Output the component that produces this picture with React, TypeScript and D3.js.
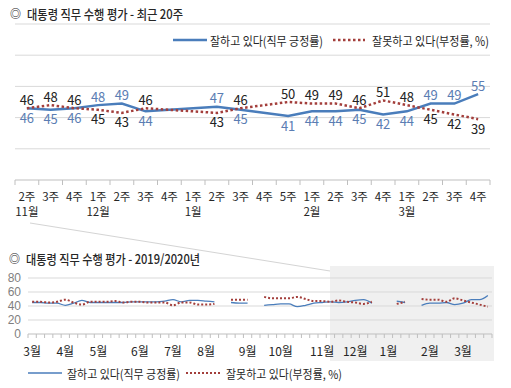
import { useEffect, useRef } from "react";
import * as d3 from "d3";

// last 20 weeks (2019-11 2주 ~ 2020-03 4주), null = no survey that week
const topWeeks = ["2주", "3주", "4주", "1주", "2주", "3주", "4주", "1주", "2주", "3주", "4주", "5주", "1주", "2주", "3주", "4주", "1주", "2주", "3주", "4주"];
const topMonths = ["11월", "", "", "12월", "", "", "", "1월", "", "", "", "", "2월", "", "", "", "3월", "", "", ""];
const topApprove = [46, 45, 46, 48, 49, 44, null, null, 47, 45, null, 41, 44, 44, 45, 42, 44, 49, 49, 55];
const topDisapprove = [46, 48, 46, 45, 43, 46, null, null, 43, 46, null, 50, 49, 49, 46, 51, 48, 45, 42, 39];
const topTicks = [0, 20, 40, 60, 80, 100];

// 2019-03 1주 ~ 2019-11 1주 (36 weeks), the rest of the year chart is the 20 weeks above
const earlyApprove = [45, 45, 44, 44, 41, 44, 48, 45, 45, 45, 45, 45, 46, 46, 46, 46, 47, 49, 46, 48, 48, 47, 46, null, 45, 44, 44, null, 41, 42, 43, 43, 39, 41, 44, 45];
const earlyDisapprove = [46, 46, 45, 46, 49, 45, 42, 46, 46, 46, 47, 45, 46, 46, 45, 45, 45, 41, 45, 45, 42, 42, 43, null, 49, 49, 49, null, 53, 51, 51, 51, 53, 50, 47, 47];
const yearApprove = [...earlyApprove, ...topApprove];
const yearDisapprove = [...earlyDisapprove, ...topDisapprove];
const yearMonths = ["3월", "4월", "5월", "6월", "7월", "8월", "9월", "10월", "11월", "12월", "1월", "2월", "3월"];
const yearMonthStart = [0, 4, 8, 13, 17, 21, 26, 30, 35, 39, 43, 48, 52];
const yearTicks = [0, 20, 40, 60, 80];

const approveLabel = "잘하고 있다(직무 긍정률)";
const disapproveLabel = "잘못하고 있다(부정률, %)";

type Pt = { i: number; v: number };

export default function App() {
  const svgRef = useRef<SVGSVGElement>(null);

  useEffect(() => {
    if (!svgRef.current) return;
    const svg = d3.select(svgRef.current);
    svg.selectAll("*").remove();

    const font = "'Noto Sans CJK KR', 'Noto Sans', sans-serif";
    const blue = "#4a7dbb";
    const red = "#a33e3b";
    const grid = "#d9d9d9";
    const axisColor = "#bfbfbf";
    const textColor = "#262626";

    svg.append("rect").attr("width", 511).attr("height", 388).attr("fill", "#fff");

    const title = (x: number, y: number, text: string, len: number) => {
      svg.append("text").attr("x", x).attr("y", y).attr("dominant-baseline", "central")
        .attr("font-family", font).attr("font-size", 11).attr("font-weight", 700)
        .attr("fill", textColor).text("◎");
      svg.append("text").attr("x", x + 17).attr("y", y).attr("dominant-baseline", "central")
        .attr("font-family", font).attr("font-size", 13).attr("font-weight", 500).attr("fill", textColor)
        .attr("textLength", len).attr("lengthAdjust", "spacingAndGlyphs").text(text);
    };

    // ---------------- top chart: last 20 weeks ----------------
    const xTop = d3.scaleBand<number>().domain(topWeeks.map((_, i) => i)).range([15, 490]);
    const yTop = d3.scaleLinear().domain([0, 100]).range([180, 24]);
    const cxTop = (i: number) => (xTop(i) ?? 0) + xTop.bandwidth() / 2;

    title(10, 13, "대통령 직무 수행 평가 - 최근 20주", 156);

    svg.append("g").selectAll("line").data(topTicks.slice(1)).join("line")
      .attr("x1", 15).attr("x2", 490)
      .attr("y1", (d) => yTop(d)).attr("y2", (d) => yTop(d))
      .attr("stroke", grid);

    svg.append("line").attr("x1", 15).attr("x2", 490).attr("y1", yTop(0)).attr("y2", yTop(0))
      .attr("stroke", axisColor);
    svg.append("g").selectAll("line").data(d3.range(topWeeks.length + 1)).join("line")
      .attr("x1", (i) => (i < topWeeks.length ? xTop(i) ?? 0 : 490))
      .attr("x2", (i) => (i < topWeeks.length ? xTop(i) ?? 0 : 490))
      .attr("y1", yTop(0)).attr("y2", yTop(0) + 5)
      .attr("stroke", axisColor);

    svg.append("g").selectAll("text").data(topWeeks).join("text")
      .attr("x", (_, i) => cxTop(i)).attr("y", 196)
      .attr("text-anchor", "middle").attr("dominant-baseline", "central")
      .attr("font-family", font).attr("font-size", 11.5).attr("fill", textColor)
      .text((d) => d);
    svg.append("g").selectAll("text").data(topMonths).join("text")
      .attr("x", (_, i) => cxTop(i)).attr("y", 211)
      .attr("text-anchor", "middle").attr("dominant-baseline", "central")
      .attr("font-family", font).attr("font-size", 11.5).attr("fill", textColor)
      .text((d) => d);

    // legend
    svg.append("line").attr("x1", 173).attr("x2", 207).attr("y1", 40).attr("y2", 40)
      .attr("stroke", blue).attr("stroke-width", 2.5);
    svg.append("text").attr("x", 210).attr("y", 40).attr("dominant-baseline", "central")
      .attr("font-family", font).attr("font-size", 12.5).attr("fill", textColor)
      .attr("textLength", 113).attr("lengthAdjust", "spacingAndGlyphs").text(approveLabel);
    svg.append("line").attr("x1", 333).attr("x2", 365).attr("y1", 40).attr("y2", 40)
      .attr("stroke", red).attr("stroke-width", 2.5).attr("stroke-dasharray", "2.5 2.5");
    svg.append("text").attr("x", 372).attr("y", 40).attr("dominant-baseline", "central")
      .attr("font-family", font).attr("font-size", 12.5).attr("fill", textColor)
      .attr("textLength", 117).attr("lengthAdjust", "spacingAndGlyphs").text(disapproveLabel);

    const pts = (arr: (number | null)[]): Pt[] =>
      arr.map((v, i) => ({ i, v: v as number })).filter((d) => d.v != null);

    const lineTop = d3.line<Pt>().x((d) => cxTop(d.i)).y((d) => yTop(d.v));
    svg.append("path").attr("d", lineTop(pts(topApprove)))
      .attr("fill", "none").attr("stroke", blue).attr("stroke-width", 2.5);
    svg.append("path").attr("d", lineTop(pts(topDisapprove)))
      .attr("fill", "none").attr("stroke", red).attr("stroke-width", 2.5)
      .attr("stroke-dasharray", "2.5 2.5");

    // value labels: higher value above, lower value below
    const labels: { i: number; v: number; up: boolean; pos: boolean }[] = [];
    topApprove.forEach((a, i) => {
      const n = topDisapprove[i];
      if (a == null || n == null) return;
      labels.push({ i, v: a, up: a > n, pos: true });
      labels.push({ i, v: n, up: !(a > n), pos: false });
    });
    svg.append("g").selectAll("text").data(labels).join("text")
      .attr("x", (d) => cxTop(d.i))
      .attr("y", (d) => yTop(d.v) + (d.up ? -9 : 9))
      .attr("text-anchor", "middle").attr("dominant-baseline", "central")
      .attr("font-family", font).attr("font-size", 13)
      .attr("fill", (d) => (d.pos ? "#5b7db3" : "#222"))
      .text((d) => d.v);

    // ---------------- bottom chart: 2019/2020 ----------------
    title(9, 258, "대통령 직무 수행 평가 - 2019/2020년", 174);

    svg.append("line").attr("x1", 30).attr("y1", 223).attr("x2", 330).attr("y2", 271)
      .attr("stroke", "#d4d4d4");
    svg.append("rect").attr("x", 330).attr("y", 266).attr("width", 164).attr("height", 95)
      .attr("fill", "#f0f0f0");

    const xYear = d3.scaleBand<number>().domain(yearApprove.map((_, i) => i)).range([28, 492]);
    const yYear = d3.scaleLinear().domain([0, 80]).range([334, 278]);
    const cxYear = (i: number) => (xYear(i) ?? 0) + xYear.bandwidth() / 2;

    svg.append("g").selectAll("line").data(yearTicks.slice(1)).join("line")
      .attr("x1", 28).attr("x2", 492)
      .attr("y1", (d) => yYear(d)).attr("y2", (d) => yYear(d))
      .attr("stroke", grid);
    svg.append("g").selectAll("text").data(yearTicks).join("text")
      .attr("x", 21).attr("y", (d) => yYear(d))
      .attr("text-anchor", "end").attr("dominant-baseline", "central")
      .attr("font-family", "'Liberation Sans', Arial, sans-serif").attr("font-size", 12)
      .attr("fill", "#7f7f7f")
      .text((d) => d);

    svg.append("line").attr("x1", 28).attr("x2", 492).attr("y1", yYear(0)).attr("y2", yYear(0))
      .attr("stroke", axisColor);
    svg.append("g").selectAll("line").data(d3.range(yearApprove.length + 1)).join("line")
      .attr("x1", (i) => (i < yearApprove.length ? xYear(i) ?? 0 : 492))
      .attr("x2", (i) => (i < yearApprove.length ? xYear(i) ?? 0 : 492))
      .attr("y1", yYear(0)).attr("y2", yYear(0) + 4)
      .attr("stroke", axisColor);

    svg.append("g").selectAll("text").data(yearMonths).join("text")
      .attr("x", (_, k) => cxYear(yearMonthStart[k])).attr("y", 350)
      .attr("text-anchor", "middle").attr("dominant-baseline", "central")
      .attr("font-family", font).attr("font-size", 12).attr("fill", textColor)
      .text((d) => d);

    const lineYear = d3.line<number | null>()
      .defined((d) => d != null)
      .x((_, i) => cxYear(i))
      .y((d) => yYear(d as number))
      .curve(d3.curveMonotoneX);
    svg.append("path").attr("d", lineYear(yearApprove))
      .attr("fill", "none").attr("stroke", blue).attr("stroke-width", 1.3);
    svg.append("path").attr("d", lineYear(yearDisapprove))
      .attr("fill", "none").attr("stroke", red).attr("stroke-width", 2)
      .attr("stroke-dasharray", "2 2");

    // legend
    svg.append("line").attr("x1", 28).attr("x2", 62).attr("y1", 373).attr("y2", 373)
      .attr("stroke", blue).attr("stroke-width", 1.3);
    svg.append("text").attr("x", 67).attr("y", 373).attr("dominant-baseline", "central")
      .attr("font-family", font).attr("font-size", 12).attr("fill", textColor)
      .attr("textLength", 113).attr("lengthAdjust", "spacingAndGlyphs").text(approveLabel);
    svg.append("line").attr("x1", 186).attr("x2", 222).attr("y1", 373).attr("y2", 373)
      .attr("stroke", red).attr("stroke-width", 2).attr("stroke-dasharray", "2 2");
    svg.append("text").attr("x", 226).attr("y", 373).attr("dominant-baseline", "central")
      .attr("font-family", font).attr("font-size", 12).attr("fill", textColor)
      .attr("textLength", 116).attr("lengthAdjust", "spacingAndGlyphs").text(disapproveLabel);
  }, []);

  return (
    <svg
      ref={svgRef}
      width={511}
      height={388}
      style={{ position: "absolute", left: 0, top: 0, display: "block" }}
    />
  );
}
